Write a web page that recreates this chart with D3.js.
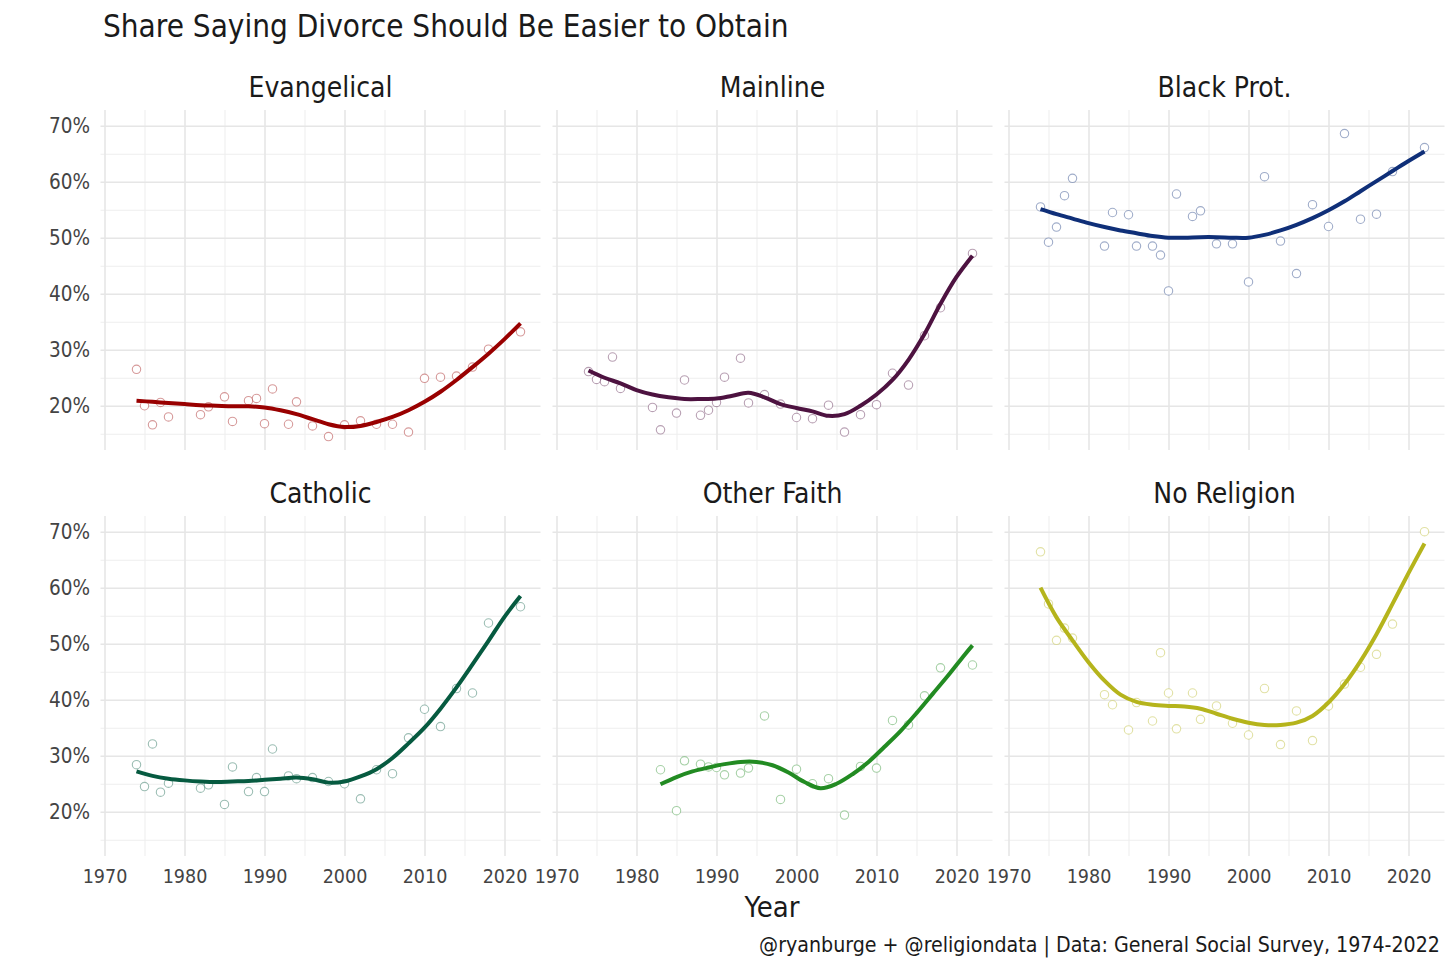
<!DOCTYPE html>
<html>
<head>
<meta charset="utf-8">
<script src="https://cdn.jsdelivr.net/npm/d3@7"></script>
<style>
  body { margin: 0; background: #fff; }
  text { font-family: "Liberation Sans Narrow", "DejaVu Sans Condensed", sans-serif; }
</style>
</head>
<body>
<script>
// faceted panels, one per tradition
const groups = ["Evangelical", "Mainline", "Black Prot.", "Catholic", "Other Faith", "No Religion"];
const colors = ["#990000", "#4d1240", "#0f2f78", "#065a40", "#228b22", "#b5b41c"];

// survey years with a point
const yearsAll = [1974,1975,1976,1977,1978,1982,1983,1985,1986,1988,1989,1990,1991,1993,1994,1996,1998,2000,2002,2004,2006,2008,2010,2012,2014,2016,2018,2022];
const yearsOther = [1983,1985,1986,1988,1989,1990,1991,1993,1994,1996,1998,2000,2002,2004,2006,2008,2010,2012,2014,2016,2018,2022];

// yearly share (%) saying divorce should be easier
const evangelical = [26.5,20.0,16.6,20.6,18.0,18.4,19.8,21.6,17.2,20.9,21.3,16.8,23.0,16.7,20.7,16.4,14.5,16.6,17.3,16.7,16.7,15.3,24.9,25.1,25.3,26.9,30.1,33.2];
const mainline = [26.1,24.7,24.3,28.7,23.1,19.7,15.7,18.7,24.6,18.3,19.2,20.6,25.1,28.5,20.5,22.0,20.3,17.9,17.7,20.1,15.3,18.4,20.2,25.8,23.7,32.5,37.5,47.2];
const blackProt = [55.5,49.2,51.9,57.5,60.6,48.5,54.5,54.1,48.5,48.5,46.9,40.5,57.8,53.8,54.8,48.9,48.9,42.1,60.9,49.4,43.6,55.9,52.0,68.6,53.3,54.2,61.8,66.1];
const catholic = [28.4,24.5,32.1,23.5,25.1,24.2,24.8,21.3,28.0,23.6,26.1,23.6,31.2,26.4,25.9,26.1,25.4,25.0,22.3,27.5,26.8,33.2,38.3,35.2,42.0,41.2,53.7,56.6];
const otherFaith = [27.5,20.2,29.1,28.5,28.0,27.9,26.6,26.9,27.8,37.1,22.2,27.6,25.0,25.9,19.4,28.1,27.8,36.3,35.5,40.7,45.7,46.2];
const noReligion = [66.4,57.1,50.6,52.8,51.0,40.9,39.1,34.6,39.5,36.2,48.4,41.2,34.8,41.2,36.5,38.9,35.8,33.7,42.0,32.0,38.0,32.7,38.9,42.8,45.8,48.1,53.5,70.0];

// smoothed trend
const smoothYears = [1974,1976,1978,1980,1982,1984,1986,1988,1990,1992,1994,1996,1998,2000,2002,2004,2006,2008,2010,2012,2014,2016,2018,2020,2022];
const smoothYearsOther = [1983,1985,1987,1989,1991,1993,1995,1997,1999,2001,2003,2005,2007,2009,2011,2013,2015,2017,2019,2021,2022];
const evangelicalFit = [20.9,20.7,20.5,20.3,20.1,20.0,19.9,19.9,19.7,19.2,18.5,17.6,16.7,16.2,16.4,17.1,18.0,19.2,20.7,22.5,24.6,26.9,29.3,31.9,34.7];
const mainlineFit = [26.3,25.0,24.0,22.8,22.0,21.5,21.2,21.2,21.3,21.8,22.3,21.5,20.3,19.6,19.0,18.2,18.5,20.0,22.0,24.6,28.2,32.8,38.2,43.0,46.8];
const blackProtFit = [55.1,54.2,53.4,52.6,51.9,51.3,50.8,50.3,50.0,50.0,50.1,50.1,50.0,50.0,50.5,51.3,52.3,53.5,54.9,56.5,58.3,60.1,61.9,63.7,65.4];
const catholicFit = [27.2,26.4,25.9,25.6,25.4,25.3,25.4,25.5,25.7,25.9,26.1,25.8,25.2,25.4,26.3,27.6,29.6,32.2,35.0,38.4,42.2,46.3,50.5,54.8,58.5];
const otherFaithFit = [24.9,26.2,27.2,27.9,28.5,28.9,28.9,28.3,27.0,25.3,24.2,25.0,26.7,28.9,31.6,34.4,37.6,41.0,44.4,48.0,49.7];
const noReligionFit = [60.0,54.7,50.6,46.7,43.4,40.9,39.6,39.1,38.9,38.8,38.4,37.5,36.6,35.9,35.5,35.5,35.9,37.1,39.5,42.8,46.9,51.7,57.1,62.6,67.9];

const xTicks = [1970,1980,1990,2000,2010,2020];
const xMinor = [1975,1985,1995,2005,2015];
const yTicks = [0.2,0.3,0.4,0.5,0.6,0.7];
const yMinor = [0.15,0.25,0.35,0.45,0.55,0.65];

const pointSets = [
  [yearsAll, evangelical], [yearsAll, mainline], [yearsAll, blackProt],
  [yearsAll, catholic], [yearsOther, otherFaith], [yearsAll, noReligion]
];
const fitSets = [
  [smoothYears, evangelicalFit], [smoothYears, mainlineFit], [smoothYears, blackProtFit],
  [smoothYears, catholicFit], [smoothYearsOther, otherFaithFit], [smoothYears, noReligionFit]
];

const W = 1456, H = 970;
const pw = 440, ph = 340;
const panelLeft = 100.5, panelTop = 110, colStep = 452, rowStep = 406;

const svg = d3.select("body").append("svg")
    .attr("width", W)
    .attr("height", H);

let x = d3.scaleLinear().domain([1969.5, 2024.5]).range([0, pw]);
let y = d3.scaleLinear().domain([0.121, 0.728]).range([ph, 0]);

svg.append("text")
    .attr("x", 103)
    .attr("y", 37)
    .attr("font-size", 31.2)
    .attr("fill", "#1a1a1a")
    .text("Share Saying Divorce Should Be Easier to Obtain");

groups.forEach((name, i) => {
    let col = i % 3, row = Math.floor(i / 3);
    let g = svg.append("g")
        .attr("transform", "translate(" + (panelLeft + col * colStep) + "," + (panelTop + row * rowStep) + ")");

    // minor grid
    g.append("g")
        .call(d3.axisBottom(x).tickValues(xMinor).tickSize(ph).tickFormat(""))
        .call(a => a.select(".domain").remove())
        .selectAll("line").attr("stroke", "#eeeeee").attr("stroke-width", 1.1);
    g.append("g")
        .call(d3.axisRight(y).tickValues(yMinor).tickSize(pw).tickFormat(""))
        .call(a => a.select(".domain").remove())
        .selectAll("line").attr("stroke", "#eeeeee").attr("stroke-width", 1.1);

    // major grid
    g.append("g")
        .call(d3.axisBottom(x).tickValues(xTicks).tickSize(ph).tickFormat(""))
        .call(a => a.select(".domain").remove())
        .selectAll("line").attr("stroke", "#e6e6e6").attr("stroke-width", 1.6);
    g.append("g")
        .call(d3.axisRight(y).tickValues(yTicks).tickSize(pw).tickFormat(""))
        .call(a => a.select(".domain").remove())
        .selectAll("line").attr("stroke", "#e6e6e6").attr("stroke-width", 1.6);

    // strip title
    g.append("text")
        .attr("x", pw / 2)
        .attr("y", -13)
        .attr("text-anchor", "middle")
        .attr("font-size", 28)
        .attr("fill", "#1a1a1a")
        .text(name);

    if (col === 0) {
        g.append("g")
            .call(d3.axisLeft(y).tickValues(yTicks).tickFormat(d3.format(".0%")).tickSize(0).tickPadding(10.5))
            .call(a => a.select(".domain").remove())
            .selectAll("text")
            .attr("font-size", 20.5)
            .attr("font-family", null)
            .attr("fill", "#444");
    }
    if (row === 1) {
        g.append("g")
            .attr("transform", "translate(0," + ph + ")")
            .call(d3.axisBottom(x).tickValues(xTicks).tickFormat(d3.format("d")).tickSize(0).tickPadding(13.5))
            .call(a => a.select(".domain").remove())
            .selectAll("text")
            .attr("font-size", 19.5)
            .attr("font-family", null)
            .attr("fill", "#444");
    }

    let yrs = pointSets[i][0], vals = pointSets[i][1];
    let pts = vals.map((v, k) => ({ x: yrs[k], y: v / 100 }));

    g.selectAll(".pt")
        .data(pts)
        .enter()
        .append("circle")
        .attr("class", "pt")
        .attr("cx", d => x(d.x))
        .attr("cy", d => y(d.y))
        .attr("r", 4.2)
        .attr("fill", "white")
        .attr("stroke", colors[i])
        .attr("stroke-opacity", 0.4)
        .attr("stroke-width", 1.1);

    let fit = fitSets[i][1].map((v, k) => ({ x: fitSets[i][0][k], y: v / 100 }));
    let line = d3.line()
        .x(d => x(d.x))
        .y(d => y(d.y))
        .curve(d3.curveCatmullRom.alpha(0.5));

    g.append("path")
        .datum(fit)
        .attr("d", line)
        .attr("fill", "none")
        .attr("stroke", colors[i])
        .attr("stroke-width", 4)
        .attr("stroke-linecap", "butt");
});

svg.append("text")
    .attr("x", 772)
    .attr("y", 917)
    .attr("text-anchor", "middle")
    .attr("font-size", 29)
    .attr("fill", "#1a1a1a")
    .text("Year");

svg.append("text")
    .attr("x", 1440)
    .attr("y", 952)
    .attr("text-anchor", "end")
    .attr("font-size", 21.2)
    .attr("fill", "#1a1a1a")
    .text("@ryanburge + @religiondata | Data: General Social Survey, 1974-2022");
</script>
</body>
</html>
